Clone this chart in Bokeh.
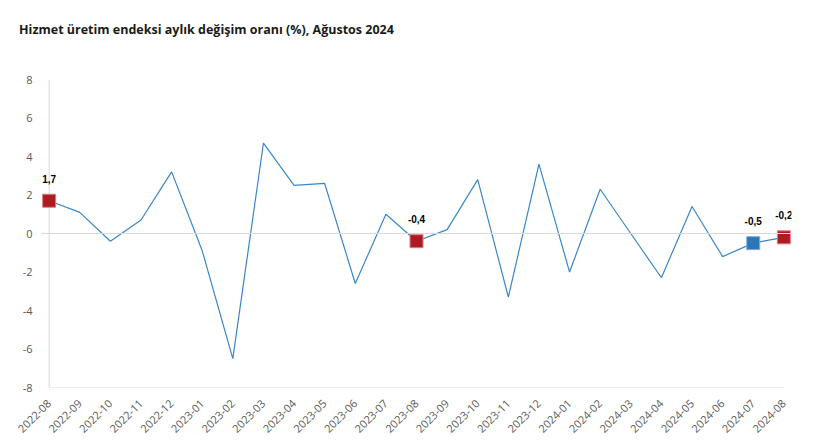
import math
from bokeh.plotting import figure
from bokeh.layouts import column
from bokeh.models import ColumnDataSource, Range1d, FixedTicker, LabelSet, Span, Div
from bokeh.core.properties import value
from bokeh.embed import file_html
from bokeh.resources import INLINE

months = ["2022-08", "2022-09", "2022-10", "2022-11", "2022-12",
          "2023-01", "2023-02", "2023-03", "2023-04", "2023-05", "2023-06",
          "2023-07", "2023-08", "2023-09", "2023-10", "2023-11", "2023-12",
          "2024-01", "2024-02", "2024-03", "2024-04", "2024-05", "2024-06",
          "2024-07", "2024-08"]
values = [1.7, 1.1, -0.4, 0.7, 3.2,
          -0.9, -6.5, 4.7, 2.5, 2.6, -2.6,
          1.0, -0.4, 0.2, 2.8, -3.3, 3.6,
          -2.0, 2.3, 0.0, -2.3, 1.4, -1.2,
          -0.5, -0.2]
highlight_red = ["2022-08", "2023-08", "2024-08"]
highlight_blue = ["2024-07"]
y_ticks = [-8, -6, -4, -2, 0, 2, 4, 6, 8]
title_text = "Hizmet üretim endeksi aylık değişim oranı (%), Ağustos 2024"

FONT = "Open Sans"
xs = list(range(len(months)))
PAD = 0.25  # room so the end markers are not clipped
HEAD = 45

head = Div(text=(f'<div style="position:absolute; top:21px; left:19px; white-space:nowrap; '
                 f'font-family:\'{FONT}\'; font-size:12.5px; font-weight:bold; '
                 f'line-height:17px; color:#1a1a1a;">{title_text}</div>'),
           width=816, height=HEAD, margin=(0, 0, 0, 0))

p = figure(width=816, height=447 - HEAD, output_backend="svg", toolbar_location=None,
           x_range=Range1d(xs[0] - PAD, xs[-1] + PAD), y_range=Range1d(-8, 8),
           min_border_left=41, min_border_right=25, min_border_top=79 - HEAD,
           min_border_bottom=60, background_fill_color="white",
           border_fill_color="white", outline_line_color=None, margin=(0, 0, 0, 0))

p.xgrid.visible = False
p.ygrid.visible = False

p.add_layout(Span(location=0, dimension="width", line_color="#d9d9d9", line_width=1))
# axis lines drawn at the data extents
p.segment(x0=[xs[0]], y0=[y_ticks[0]], x1=[xs[0]], y1=[y_ticks[-1]],
          line_color="#d9d9d9", line_width=1)
p.segment(x0=[xs[0]], y0=[y_ticks[0]], x1=[xs[-1]], y1=[y_ticks[0]],
          line_color="#d9d9d9", line_width=1)

p.yaxis.ticker = FixedTicker(ticks=y_ticks)
p.yaxis.major_label_overrides = {t: str(t) for t in y_ticks}
p.yaxis.axis_line_color = None
p.yaxis.major_tick_line_color = None
p.yaxis.minor_tick_line_color = None
p.yaxis.major_label_text_font = FONT
p.yaxis.major_label_text_font_size = "11px"
p.yaxis.major_label_text_color = "#595959"
p.yaxis.major_label_standoff = 3

p.xaxis.ticker = FixedTicker(ticks=xs)
p.xaxis.major_label_overrides = {i: m for i, m in enumerate(months)}
p.xaxis.major_label_orientation = math.pi / 4
p.xaxis.axis_line_color = None
p.xaxis.major_tick_line_color = None
p.xaxis.minor_tick_line_color = None
p.xaxis.major_label_text_font = FONT
p.xaxis.major_label_text_font_size = "11px"
p.xaxis.major_label_text_color = "#595959"
p.xaxis.major_label_standoff = 8

src = ColumnDataSource(dict(x=xs, y=values))
p.line("x", "y", source=src, line_color="#3a87c8", line_width=1.2)

red_idx = [months.index(m) for m in highlight_red]
blue_idx = [months.index(m) for m in highlight_blue]
red_src = ColumnDataSource(dict(x=red_idx, y=[values[i] for i in red_idx],
                                lab=[f"{values[i]:.1f}".replace(".", ",") for i in red_idx]))
blue_src = ColumnDataSource(dict(x=blue_idx, y=[values[i] for i in blue_idx],
                                 lab=[f"{values[i]:.1f}".replace(".", ",") for i in blue_idx]))
p.scatter("x", "y", source=red_src, marker="square", size=13,
          fill_color="#ae1a22", line_color="#e07a80", line_width=1)
p.scatter("x", "y", source=blue_src, marker="square", size=13,
          fill_color="#2e75b6", line_color="#7fb0dd", line_width=1)

for s in (red_src, blue_src):
    p.add_layout(LabelSet(x="x", y="y", text="lab", source=s, y_offset=18,
                          text_align="center", text_baseline="bottom",
                          text_font=value("Liberation Sans"), text_font_size="10px",
                          text_font_style="bold", text_color="#000000"))

layout = column(head, p, spacing=0)
open("out.html", "w").write(file_html(layout, INLINE))
